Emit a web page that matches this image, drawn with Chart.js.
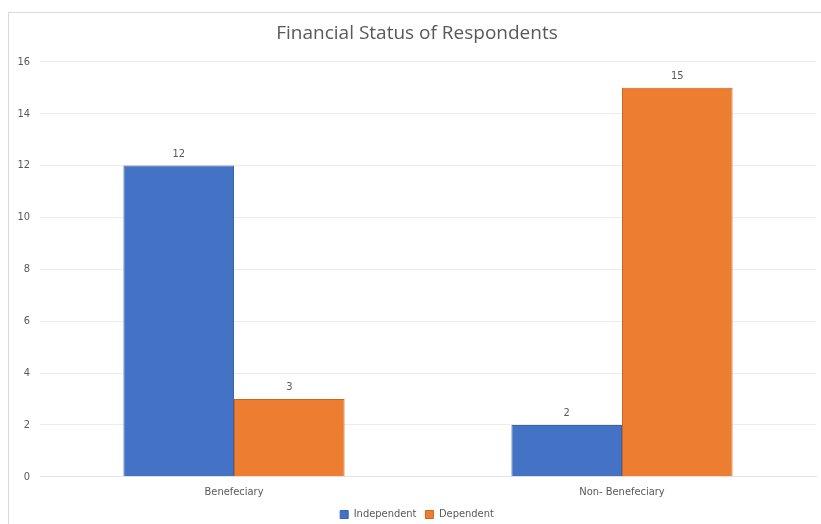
<!DOCTYPE html>
<html>
<head>
<meta charset="utf-8">
<script src="https://cdn.jsdelivr.net/npm/chart.js@4.4.1/dist/chart.umd.min.js"></script>
<style>
  html, body { margin: 0; padding: 0; background: #fff; }
  #frame { position: absolute; left: 8px; top: 12px; width: 820px; height: 520px; border: 1px solid #d9d9d9; box-sizing: border-box; }
  #wrap { position: absolute; left: 0; top: 0; width: 821px; height: 524px; }
</style>
</head>
<body>
<div id="frame"></div>
<div id="wrap"><canvas id="c" width="821" height="524"></canvas></div>
<script>
const categories = ["Benefeciary", "Non- Benefeciary"];
const independent = [12, 2];
const dependent = [3, 15];
const yTicks = [0, 2, 4, 6, 8, 10, 12, 14, 16];

const FONT = "'DejaVu Sans Condensed', 'Liberation Sans Narrow', 'Open Sans', sans-serif";
const TITLE_FONT = "'Open Sans', 'Noto Sans', sans-serif";

// Value labels above each bar
const valueLabels = {
  id: 'valueLabels',
  afterDatasetsDraw(chart) {
    const ctx = chart.ctx;
    ctx.save();
    ctx.font = "11px " + FONT;
    ctx.fillStyle = '#595959';
    ctx.textAlign = 'center';
    ctx.textBaseline = 'bottom';
    chart.data.datasets.forEach((ds, i) => {
      chart.getDatasetMeta(i).data.forEach((bar, j) => {
        ctx.fillText(String(ds.data[j]), bar.x, bar.y - 6);
      });
    });
    ctx.restore();
  }
};

new Chart(document.getElementById('c'), {
  type: 'bar',
  data: {
    labels: categories,
    datasets: [
      { label: 'Independent', data: independent, backgroundColor: '#4472C4', borderColor: '#3a62a8', borderWidth: 1 },
      { label: 'Dependent', data: dependent, backgroundColor: '#ED7D31', borderColor: '#c9661f', borderWidth: 1 }
    ]
  },
  options: {
    responsive: false,
    animation: false,
    layout: { padding: { left: 18, right: 5, top: 16, bottom: -6 } },
    datasets: { bar: { categoryPercentage: 0.57, barPercentage: 1.0 } },
    plugins: {
      title: {
        display: true,
        text: 'Financial Status of Respondents',
        color: '#595959',
        font: { family: TITLE_FONT, size: 19, weight: 'normal' },
        padding: { top: 6, bottom: 17 }
      },
      legend: {
        position: 'bottom',
        labels: {
          color: '#595959',
          font: { family: FONT, size: 11 },
          boxWidth: 8,
          boxHeight: 8,
          padding: 9
        }
      },
      tooltip: { enabled: false }
    },
    scales: {
      x: {
        grid: { display: false },
        border: { color: '#e4e4e4' },
        ticks: { color: '#595959', font: { family: FONT, size: 11 }, padding: 1 }
      },
      y: {
        min: 0,
        max: 16,
        afterBuildTicks(axis) { axis.ticks = yTicks.map(v => ({ value: v })); },
        afterFit(axis) { axis.width = 22; },
        grid: { color: '#ececec', drawTicks: false },
        border: { display: false },
        ticks: { color: '#595959', font: { family: FONT, size: 11 }, padding: 10 }
      }
    }
  },
  plugins: [valueLabels]
});
</script>
</body>
</html>
